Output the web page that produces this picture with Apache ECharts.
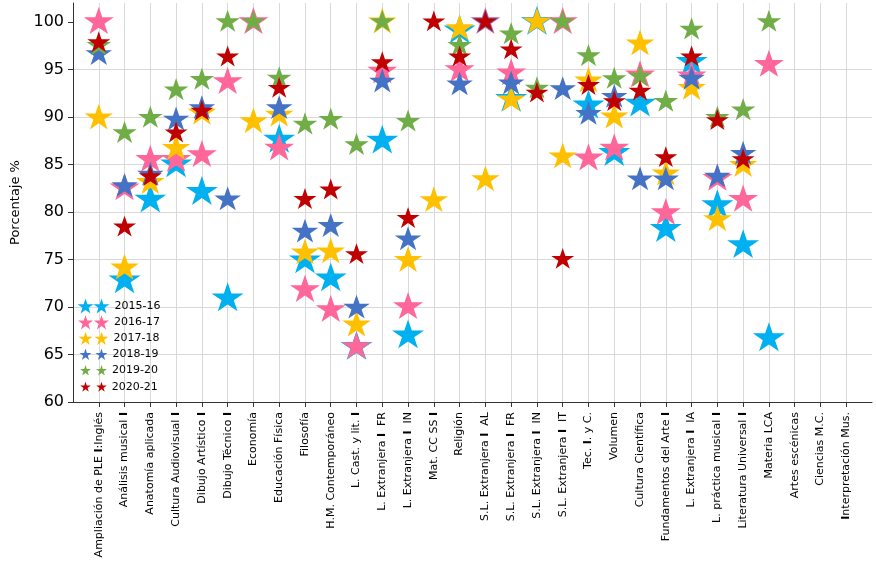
<!DOCTYPE html>
<html>
<head>
<meta charset="utf-8">
<script src="https://cdn.jsdelivr.net/npm/echarts@6/dist/echarts.min.js"></script>
<style>
  html, body { margin: 0; padding: 0; background: #fff; }
  #chart { width: 876px; height: 566px; }
</style>
</head>
<body>
<div id="chart"></div>
<script>
// asignaturas (eje X)
const categories = [
  'Ampliación de PLE Ⅰ:Inglés', 'Análisis musical Ⅰ', 'Anatomía aplicada', 'Cultura Audiovisual Ⅰ',
  'Dibujo Artístico Ⅰ', 'Dibujo Técnico Ⅰ', 'Economía', 'Educación Física', 'Filosofía',
  'H.M. Contemporáneo', 'L. Cast. y lit. Ⅰ', 'L. Extranjera Ⅰ  FR', 'L. Extranjera Ⅰ  IN',
  'Mat. CC SS Ⅰ', 'Religión', 'S.L. Extranjera Ⅰ  AL', 'S.L. Extranjera Ⅰ  FR',
  'S.L. Extranjera Ⅰ  IN', 'S.L. Extranjera Ⅰ  IT', 'Tec. Ⅰ. y C.', 'Volumen',
  'Cultura Científica', 'Fundamentos del Arte Ⅰ', 'L. Extranjera Ⅰ  IA', 'L. práctica musical Ⅰ',
  'Literatura Universal Ⅰ', 'Materia LCA', 'Artes escénicas', 'Ciencias M.C.', 'Ⅰnterpretación Mus.'
];
const yTicks = [60, 65, 70, 75, 80, 85, 90, 95, 100];

const s1516 = [null, 72.8, 81.3, 85.0, 82.1, 70.9, null, 87.6, 74.9, 73.0, 65.8, 87.5, 67.0, null, 99.1,
  null, 91.9, 100, null, 91.2, 86.2, 91.4, 78.2, 95.8, 80.7, 76.5, 66.7, null, null, null];
const s1617 = [100, 82.5, 85.5, 85.5, 86.0, 93.7, 100, 86.7, 71.8, 69.7, 65.8, 94.8, 70.0, null, 94.95,
  100, 94.6, null, 100, 85.65, 86.7, 94.4, 79.9, 94.3, 83.5, 81.3, 95.5, null, null, null];
const s1718 = [89.9, 74.1, 83.1, 86.7, 90.4, null, 89.5, 90.2, 75.7, 75.8, 68.1, 100, 74.9, 81.2, 99.3,
  83.4, 91.8, 100, 85.8, 93.8, 90.0, 97.7, 84.0, 93.0, 79.2, 84.9, null, null, null, null];
const s1819 = [96.6, 82.7, 83.9, 89.7, 90.9, 81.3, null, 90.9, 77.9, 78.5, 69.9, 93.7, 77.1, null, 93.4,
  100, 93.5, null, 92.9, 90.3, 92.1, 83.4, 83.4, 94.0, 83.7, 86.1, null, null, null, null];
const s1920 = [97.5, 88.3, 89.9, 92.8, 93.9, 100, 100, 94.05, 89.2, 89.7, 87.05, 100, 89.5, null, 97.5,
  null, 98.7, 93.0, 100, 96.4, 94.0, 94.25, 91.6, 99.2, 89.9, 90.7, 100, null, null, null];
const s2021 = [97.8, 78.4, 83.7, 88.3, 90.6, 96.3, null, 93.0, 81.3, 82.3, 75.5, 95.7, 79.3, 100, 96.3,
  100, 97.05, 92.5, 75.0, 93.3, 91.6, 92.7, 85.7, 96.3, 89.6, 85.5, null, null, null, null];

const seriesNames = ['2015-16', '2016-17', '2017-18', '2018-19', '2019-20', '2020-21'];
const seriesData = [s1516, s1617, s1718, s1819, s1920, s2021];

// estilo
const colors = ['#00B0F0', '#FF6699', '#FFC000', '#4472C4', '#70AD47', '#C00000'];
const starW = [32, 30, 28.5, 26.5, 24.5, 23];
const legendW = [16, 15, 14, 12, 11, 10.5];
const legendRowY = [306, 322.3, 338.3, 354.3, 370.3, 386.7];
const FONT = 'DejaVu Sans';
const ASPECT = 1.809 / 1.902;

function starPts(cx) {
  const pts = [];
  for (let k = 0; k < 10; k++) {
    const r = k % 2 ? 0.381966 : 1;
    const a = (-90 + 36 * k) * Math.PI / 180;
    pts.push((cx + r * Math.cos(a)).toFixed(4) + ' ' + (r * Math.sin(a)).toFixed(4));
  }
  return 'M' + pts.join(' L') + ' Z';
}
const starSymbol = 'path://' + starPts(0);

// eje X con un hueco vacío a cada lado
const axisCats = [''].concat(categories, [' ']);
const inner = (i) => i > 0 && i <= categories.length;

const chart = echarts.init(document.getElementById('chart'));

const series = seriesNames.map((name, s) => {
  const w = starW[s];
  return {
    name: name,
    type: 'scatter',
    symbol: starSymbol,
    symbolKeepAspect: true,
    symbolSize: [w, w * ASPECT],
    symbolOffset: [0, -0.0955 * w / 1.902],
    itemStyle: { color: colors[s], opacity: 1 },
    emphasis: { disabled: true },
    data: seriesData[s].map((v, i) => v == null ? null : [i + 1, v]).filter(d => d)
  };
});

const legends = seriesNames.map((name, s) => {
  const w = legendW[s];
  const d = 16 / (w / 1.902);
  const h = w * ASPECT;
  return {
    data: [{ name: name, icon: 'path://' + starPts(0) + ' ' + starPts(d) }],
    left: 85.5 - w / 2,
    top: legendRowY[s] - Math.max(h, 14) / 2,
    padding: 0,
    itemWidth: 16 + w,
    itemHeight: h,
    selectedMode: false,
    textStyle: { fontFamily: FONT, fontSize: 11, color: '#000', lineHeight: 14 }
  };
});

chart.setOption({
  animation: false,
  grid: { left: 73, right: 4, top: 3, bottom: 164, containLabel: false },
  legend: legends,
  xAxis: {
    type: 'category',
    data: axisCats,
    boundaryGap: false,
    axisLine: { lineStyle: { color: '#333', width: 1 } },
    axisTick: { interval: inner, length: 5, lineStyle: { color: '#333' } },
    axisLabel: {
      interval: inner, rotate: 90, margin: 10, fontFamily: FONT, fontSize: 11, color: '#000',
      // el numeral Ⅰ sale como una barra gruesa en el original
      formatter: (v) => v.replace(/Ⅰ/g, '{b|I}'),
      rich: { b: { fontFamily: FONT, fontSize: 11, fontWeight: 'bold', color: '#000' } }
    },
    splitLine: { show: true, interval: inner, lineStyle: { color: '#d9d9d9', width: 1 } }
  },
  yAxis: {
    type: 'value',
    min: 60,
    max: 102,
    interval: 5,
    name: 'Porcentaje %',
    nameLocation: 'middle',
    nameGap: 45,
    nameTextStyle: { fontFamily: FONT, fontSize: 13, color: '#000' },
    axisLine: { show: true, lineStyle: { color: '#333', width: 1 } },
    axisTick: { show: true, length: 5, customValues: yTicks, lineStyle: { color: '#333' } },
    axisLabel: { customValues: yTicks, margin: 9, fontFamily: FONT, fontSize: 16, color: '#000' },
    splitLine: { show: true, showMaxLine: false, lineStyle: { color: '#d9d9d9', width: 1 } }
  },
  series: series
});

window.addEventListener('resize', () => chart.resize());
</script>
</body>
</html>
